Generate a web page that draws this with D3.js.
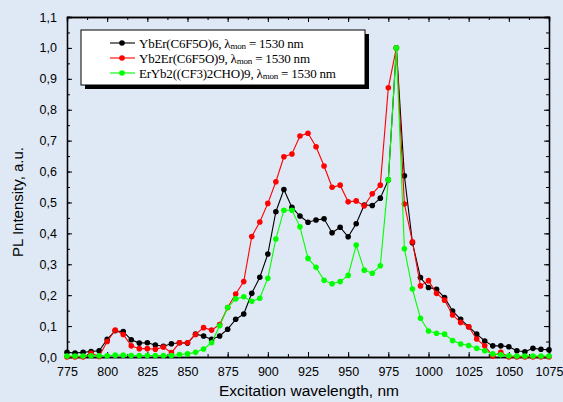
<html>
<head>
	<script src="https://d3js.org/d3.v7.min.js"></script>
	<style>
	body { margin:0; background:#dfe9f5; }
	</style>
</head>
<body>
	<div id="viz"></div>
	<script>
	// wavelengths, nm
	var wavelengths = [775,780,785,790,795,800,805,810,815,820,825,830,835,840,845,850,855,860,865,870,
		875,880,885,890,895,900,905,910,915,920,925,930,935,940,945,950,955,960,965,970,
		975,980,985,990,995,1000,1005,1010,1015,1020,1025,1030,1035,1040,1045,1050,1055,1060,1065,1070,1075];

	var ybEr = [0.015,0.013,0.015,0.018,0.020,0.057,0.085,0.082,0.056,0.045,0.046,0.039,0.035,0.043,0.046,0.045,0.074,0.068,0.057,0.068,
		0.090,0.122,0.139,0.206,0.258,0.333,0.470,0.542,0.484,0.456,0.436,0.443,0.447,0.402,0.420,0.389,0.431,0.492,0.490,0.514,
		0.573,1.0,0.586,0.370,0.257,0.225,0.219,0.192,0.149,0.122,0.098,0.074,0.052,0.036,0.036,0.033,0.020,0.017,0.028,0.025,0.023];

	var yb2Er = [0,0,0,0.012,0.002,0.050,0.087,0.073,0.036,0.027,0.027,0.025,0.032,0.014,0.046,0.046,0.073,0.095,0.087,0.105,
		0.160,0.204,0.244,0.390,0.437,0.497,0.567,0.648,0.657,0.715,0.724,0.680,0.618,0.549,0.556,0.502,0.505,0.489,0.528,0.556,
		0.871,1.0,0.495,0.373,0.230,0.247,0.206,0.184,0.136,0.112,0.098,0.058,0.036,0.003,0.015,0,0,0,0,0,0];

	var erYb2 = [0.003,0.003,0.003,0.004,0.004,0.004,0.006,0.006,0.005,0.005,0.005,0.005,0.005,0.005,0.008,0.010,0.015,0.026,0.046,0.101,
		0.160,0.188,0.195,0.180,0.190,0.255,0.382,0.475,0.475,0.421,0.319,0.290,0.248,0.237,0.244,0.264,0.362,0.281,0.271,0.295,
		0.573,1.0,0.350,0.220,0.125,0.084,0.077,0.074,0.053,0.042,0.037,0.028,0.020,0.010,0.007,0.004,0.003,0.003,0.003,0.003,0.003];

	var seriesNames = ["YbEr(C6F5O)6, \u03bb", "Yb2Er(C6F5O)9, \u03bb", "ErYb2((CF3)2CHO)9, \u03bb"];
	var seriesColors = ["#000000", "#ff0000", "#00ff00"];
	var xTicks = [775,800,825,850,875,900,925,950,975,1000,1025,1050,1075];
	var yTicks = [0,0.1,0.2,0.3,0.4,0.5,0.6,0.7,0.8,0.9,1.0,1.1];

	var W = 563, H = 402;
	var mLeft = 67, mRight = 549, mTop = 17, mBottom = 357;

	var svg = d3.select("#viz").append("svg")
		.attr("width", W).attr("height", H);

	svg.append("rect").attr("width", W).attr("height", H).attr("fill", "#dfe9f5");

	var x = d3.scaleLinear().domain([775, 1075]).range([mLeft, mRight]);
	var y = d3.scaleLinear().domain([0, 1.1]).range([mBottom, mTop]);

	var fmt = function(d){ return d3.format(".1f")(d).replace(".", ","); };

	// axes, ticks inward
	var xMinor = d3.range(0, 25).map(function(i){ return 775 + i*12.5; });
	var yMinor = d3.range(0, 23).map(function(i){ return i*0.05; });

	svg.append("g").attr("transform", "translate(0," + mBottom + ")")
		.call(d3.axisBottom(x).tickValues(xTicks).tickSize(-5).tickPadding(10).tickFormat(d3.format("d")));
	svg.append("g").attr("transform", "translate(0," + mBottom + ")")
		.call(d3.axisBottom(x).tickValues(xMinor).tickSize(-3).tickFormat(""));
	svg.append("g").attr("transform", "translate(0," + mTop + ")")
		.call(d3.axisTop(x).tickValues(xTicks).tickSize(-5).tickFormat(""));
	svg.append("g").attr("transform", "translate(0," + mTop + ")")
		.call(d3.axisTop(x).tickValues(xMinor).tickSize(-3).tickFormat(""));

	svg.append("g").attr("transform", "translate(" + mLeft + ",0)")
		.call(d3.axisLeft(y).tickValues(yTicks).tickSize(-5).tickPadding(10).tickFormat(fmt));
	svg.append("g").attr("transform", "translate(" + mLeft + ",0)")
		.call(d3.axisLeft(y).tickValues(yMinor).tickSize(-3).tickFormat(""));
	svg.append("g").attr("transform", "translate(" + mRight + ",0)")
		.call(d3.axisRight(y).tickValues(yTicks).tickSize(-5).tickFormat(""));
	svg.append("g").attr("transform", "translate(" + mRight + ",0)")
		.call(d3.axisRight(y).tickValues(yMinor).tickSize(-3).tickFormat(""));

	svg.selectAll(".domain").attr("stroke", "#000").attr("stroke-width", 1.3);
	svg.selectAll(".tick line").attr("stroke", "#000");
	svg.selectAll(".tick text").attr("font-family", "Liberation Sans, Arial, sans-serif")
		.attr("font-size", 12.5).attr("fill", "#000");

	// lines and markers
	var all = [ybEr, yb2Er, erYb2];
	var line = d3.line().x(function(d, i){ return x(wavelengths[i]); }).y(function(d){ return y(d); });

	all.forEach(function(vals, k){
		var g = svg.append("g");
		g.append("path").datum(vals).attr("d", line)
			.attr("fill", "none").attr("stroke", seriesColors[k]).attr("stroke-width", 1.1);
		g.selectAll("circle").data(vals).enter().append("circle")
			.attr("cx", function(d, i){ return x(wavelengths[i]); })
			.attr("cy", function(d){ return y(d); })
			.attr("r", 2.8).attr("fill", seriesColors[k]);
	});

	// legend
	var lg = svg.append("g");
	lg.append("rect").attr("x", 85).attr("y", 34).attr("width", 284).attr("height", 55).attr("fill", "#000");
	lg.append("rect").attr("x", 81).attr("y", 30).attr("width", 284).attr("height", 55)
		.attr("fill", "#fff").attr("stroke", "#000").attr("stroke-width", 1);
	seriesNames.forEach(function(name, k){
		var yy = 43 + k*15;
		lg.append("line").attr("x1", 110).attr("x2", 135).attr("y1", yy).attr("y2", yy)
			.attr("stroke", seriesColors[k]).attr("stroke-width", 1.1);
		lg.append("circle").attr("cx", 122).attr("cy", yy).attr("r", 2.8).attr("fill", seriesColors[k]);
		var t = lg.append("text").attr("x", 139).attr("y", yy + 4.5)
			.attr("font-family", "Liberation Serif, Times New Roman, serif").attr("font-size", 13)
			.attr("letter-spacing", -0.2);
		t.append("tspan").text(name);
		t.append("tspan").attr("font-size", 9).attr("dy", 1).text("mon");
		t.append("tspan").attr("dy", -1).text(" = 1530 nm");
	});

	// titles
	svg.append("text").attr("x", 309).attr("y", 396).attr("text-anchor", "middle")
		.attr("font-family", "Liberation Sans, Arial, sans-serif").attr("font-size", 15.5)
		.text("Excitation wavelength, nm");
	svg.append("text").attr("transform", "translate(23,202) rotate(-90)").attr("text-anchor", "middle")
		.attr("font-family", "Liberation Sans, Arial, sans-serif").attr("font-size", 15)
		.text("PL Intensity, a.u.");
	</script>
</body>
</html>
